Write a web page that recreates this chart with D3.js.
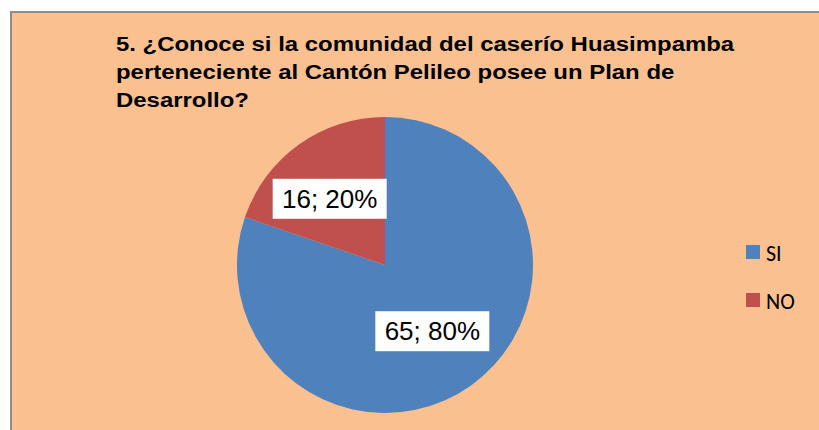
<!DOCTYPE html>
<html>
<head>
<meta charset="utf-8">
<script src="https://cdn.jsdelivr.net/npm/d3@7"></script>
<style>
  body { margin: 0; background: #fff; }
  svg { display: block; }
</style>
</head>
<body>
<svg id="chart"></svg>
<script>
const width = 819
const height = 430
const titleLines = ["5. ¿Conoce si la comunidad del caserío Huasimpamba", "perteneciente al Cantón Pelileo posee un Plan de", "Desarrollo?"]
const categories = ["SI", "NO"]
const values = [65, 16]
const percents = ["80%", "20%"]
const colors = ["#4F81BD", "#C0504D"]

const cx = 385
const cy = 265
const radius = 148

const svg = d3.select("#chart")
    .attr("width", width)
    .attr("height", height)

// chart area
svg.append("rect")
    .attr("x", 11)
    .attr("y", 12)
    .attr("width", width)
    .attr("height", height)
    .style("fill", "#FAC090")
    .style("stroke", "#8c8c8c")
    .style("stroke-width", 2)

// title is drawn a bit wider than the font, as in the original
svg.append("g")
    .attr("transform", "translate(116, 0) scale(1.14, 1)")
    .selectAll("text")
    .data(titleLines)
    .enter()
    .append("text")
        .attr("x", 0)
        .attr("y", (d, i) => 51 + i * 28)
        .text(d => d)
        .style("font", "bold 21px 'Liberation Sans', Arial, sans-serif")
        .style("fill", "#000")

const pie = d3.pie()
    .sort(null)
    .value(d => d)

const arcs = pie(values)

const arc = d3.arc()
    .innerRadius(0)
    .outerRadius(radius)

const labelArc = d3.arc()
    .innerRadius(radius * 0.55)
    .outerRadius(radius * 0.55)

const g = svg.append("g")
    .attr("transform", `translate(${cx}, ${cy})`)

g.selectAll("path")
    .data(arcs)
    .enter()
    .append("path")
        .attr("d", arc)
        .style("fill", (d, i) => colors[i])

const labels = g.selectAll(".lbl")
    .data(arcs)
    .enter()
    .append("g")
        .attr("class", "lbl")
        .attr("transform", d => {
            const [x, y] = labelArc.centroid(d)
            // the small slice's label leans away from the divide, like Excel's best fit
            return `translate(${x < 0 ? x - 8 : x}, ${y})`
        })

labels.append("rect")
    .attr("x", -57)
    .attr("y", -20)
    .attr("width", 114)
    .attr("height", 40)
    .style("fill", "#fff")

labels.append("text")
    .attr("text-anchor", "middle")
    .attr("y", 9)
    .text((d, i) => `${values[i]}; ${percents[i]}`)
    .style("font", "26px 'Liberation Sans', Arial, sans-serif")
    .style("fill", "#000")

const legend = svg.append("g")
    .attr("id", "legend")

legend.selectAll("rect")
    .data(categories)
    .enter()
    .append("rect")
        .attr("x", 746)
        .attr("y", (d, i) => 245 + i * 48)
        .attr("width", 14)
        .attr("height", 14)
        .style("fill", (d, i) => colors[i])

legend.selectAll("text")
    .data(categories)
    .enter()
    .append("text")
        .attr("x", 766)
        .attr("y", (d, i) => 261 + i * 48)
        .text(d => d)
        .style("font", "22px Carlito, Lato, 'Liberation Sans', sans-serif")
        .style("fill", "#000")
</script>
</body>
</html>
